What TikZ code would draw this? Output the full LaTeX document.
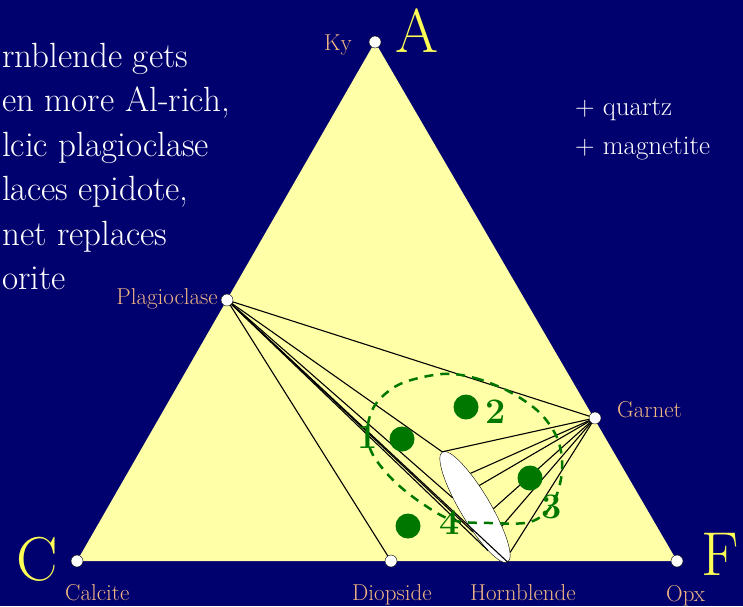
\documentclass[tikz,border=0pt]{standalone}
\usepackage{fontspec}
\usepackage{tikz}
\usetikzlibrary{shapes.geometric,positioning}
\definecolor{DeepNavy}{HTML}{00006E}
\definecolor{PaleYellow}{HTML}{FFFFA8}
\definecolor{LabelTan}{HTML}{F0B483}
\definecolor{LetterYellow}{HTML}{FFFF55}
\definecolor{DotGreen}{HTML}{007800}
\tikzset{
  % Vertex dot
  VD/.style={circle,draw=black,fill=white,thin,
             minimum size=12pt,inner sep=0pt},
  % Green bulk-composition dot
  GD/.style={circle,fill=DotGreen,minimum size=25pt,inner sep=0pt},
  % Tie line
  TL/.style={black,line width=1.1pt},
  % Hornblende field
  HB/.style={ellipse,draw=black,fill=white,thin,
             minimum width=128pt,minimum height=30pt,inner sep=0pt,
             rotate=-59.3},
  % Label styles
  LB/.style={text=LabelTan,font=\fontsize{23}{28}\selectfont,inner sep=0pt},
  BL/.style={text=LetterYellow,font=\fontsize{62}{70}\selectfont,inner sep=0pt},
  NUM/.style={text=DotGreen,font=\fontsize{36}{40}\selectfont\bfseries,inner sep=0pt},
  NOTE/.style={text=white,align=left,inner sep=0pt}
}
\begin{document}
\begin{tikzpicture}[x=1pt,y=-1pt]
  \fill[DeepNavy] (0,0) rectangle (743,606);
  \useasboundingbox (0,0) rectangle (743,606);
  \coordinate (ky) at (375,42);
  \coordinate (cal) at (77,561);
  \coordinate (opx) at (677,561);
  \coordinate (plag) at (227,300);
  \coordinate (garnet) at (595,418);
  \coordinate (diop) at (391,561);
  \fill[PaleYellow] (ky)--(opx)--(cal)--cycle;
  \node[HB] (hbl) at (475,507) {};
  % tie lines from plagioclase
  \draw[TL](plag)--(garnet);
  \draw[TL](plag)--(diop);
  \draw[TL](plag)--(hbl.180);
  \draw[TL](plag)--(hbl.217);
  \draw[TL](plag)--(hbl.325);
  \draw[TL](plag)--(hbl.346);
  \draw[TL](plag)--(hbl.0);
  % tie lines from garnet
  \draw[TL](garnet)--(hbl.180);
  \draw[TL](garnet)--(hbl.157);
  \draw[TL](garnet)--(hbl.138);
  \draw[TL](garnet)--(hbl.54);
  \draw[TL](garnet)--(hbl.24);
  \draw[TL](garnet)--(hbl.7);
  % range of compositions
  \draw[DotGreen,line width=2.5pt,dash pattern=on 9pt off 7pt]
    plot[smooth cycle,tension=0.55] coordinates {(442,374) (475,378) (510,392)
    (540,413) (558,440) (562,472) (552,505) (530,522) (490,523) (452,520)
    (420,502) (393,480) (373,455) (367,432) (375,405) (400,384)};
  \node[GD] (d1) at (402,439) {};
  \node[GD] (d2) at (466,407) {};
  \node[GD] (d3) at (530,478) {};
  \node[GD] (d4) at (408,526) {};
  \node[NUM] (n1) at (368,437) {1};
  \node[NUM] (n2) at (496,412) {2};
  \node[NUM] (n3) at (552,507) {3};
  \node[NUM] (n4) at (450,523) {4};
  \node[VD] (kydot) at (ky) {};
  \node[VD] (caldot) at (cal) {};
  \node[VD] (opxdot) at (opx) {};
  \node[VD] (plagdot) at (plag) {};
  \node[VD] (grtdot) at (garnet) {};
  \node[VD] (diodot) at (diop) {};
  % labels
  \node[LB,anchor=base east] (kylbl) at (352,50) {Ky};
  \node[BL,anchor=base west] (alet) at (395,52) {A};
  \node[LB,anchor=base east] (plaglbl) at (218,304) {Plagioclase};
  \node[LB,anchor=base west] (grtlbl) at (617,417) {Garnet};
  \node[BL,anchor=base west] (clet) at (16,580) {C};
  \node[BL,anchor=base west] (flet) at (701,575) {F};
  \node[LB,anchor=base west] (callbl) at (65,600) {Calcite};
  \node[LB,anchor=base west] (diolbl) at (352,600) {Diopside};
  \node[LB,anchor=base west] (hbllbl) at (470,600) {Hornblende};
  \node[LB,anchor=base west] (opxlbl) at (666,601) {Opx};
  \node[NOTE,font=\fontsize{35}{44.4}\selectfont,anchor=north west] (note) at (2,43)
    {rnblende gets\\en more Al-rich,\\lcic plagioclase\\laces epidote,\\net replaces\\orite};
  \node[NOTE,font=\fontsize{27}{39}\selectfont,anchor=north west] (extra) at (575,99)
    {+ quartz\\+ magnetite};
\end{tikzpicture}
\end{document}
